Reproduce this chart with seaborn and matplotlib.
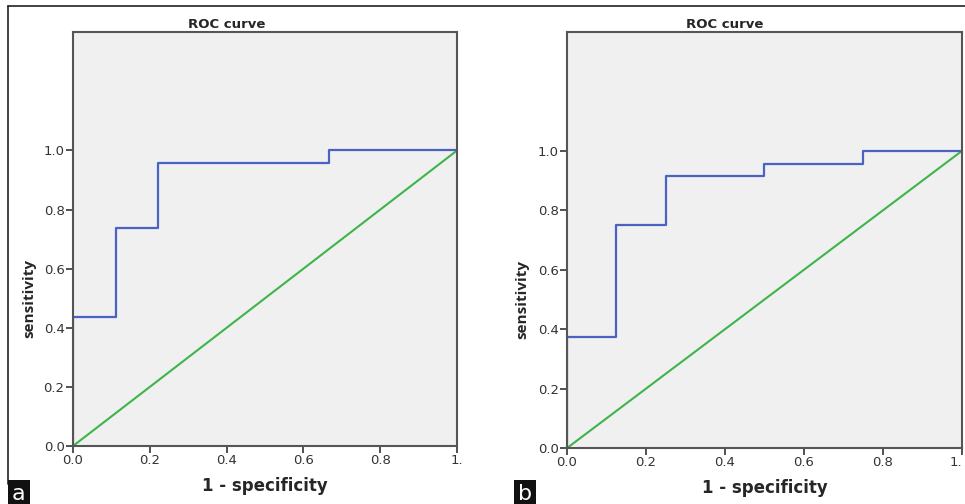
import matplotlib
matplotlib.use("Agg")
import matplotlib.pyplot as plt
import seaborn as sns
import pandas as pd

sns.set_style("white")
plt.rcParams['font.family'] = ['DejaVu Sans']

# ROC points (1 - specificity, sensitivity), panel a
fpr_a = [0.0, 0.0, 0.111, 0.222, 0.667, 1.0]
tpr_a = [0.0, 0.435, 0.739, 0.957, 1.0, 1.0]
# panel b
fpr_b = [0.0, 0.0, 0.125, 0.25, 0.5, 0.75, 1.0]
tpr_b = [0.0, 0.375, 0.75, 0.917, 0.958, 1.0, 1.0]
# reference line
ref_x = [0.0, 1.0]
ref_y = [0.0, 1.0]

ticks = [0.0, 0.2, 0.4, 0.6, 0.8, 1.0]
xtick_labels = ['0.0', '0.2', '0.4', '0.6', '0.8', '1.']
ytick_labels = ['0.0', '0.2', '0.4', '0.6', '0.8', '1.0']

blue = '#4a62c2'
green = '#3db54a'

fig = plt.figure(figsize=(9.65, 5.04), dpi=100)
axes = [fig.add_axes([0.0756, 0.115, 0.398, 0.821]),
        fig.add_axes([0.5876, 0.111, 0.409, 0.825])]

for ax, fpr, tpr in zip(axes, [fpr_a, fpr_b], [tpr_a, tpr_b]):
    df = pd.DataFrame({'fpr': fpr, 'tpr': tpr})
    ax.set_facecolor('#f0f0f0')
    sns.lineplot(x=ref_x, y=ref_y, color=green, lw=1.5, ax=ax)
    sns.lineplot(data=df, x='fpr', y='tpr', estimator=None, sort=False,
                 drawstyle='steps-post', color=blue, lw=1.6, ax=ax)
    ax.set_xlim(0, 1)
    ax.set_ylim(0, 1.4)
    ax.set_xticks(ticks)
    ax.set_xticklabels(xtick_labels)
    ax.set_yticks(ticks)
    ax.set_yticklabels(ytick_labels)
    ax.tick_params(direction='out', length=5, width=1.2, colors='#333333',
                   labelsize=9.5, left=True, bottom=True, pad=1)
    for s in ax.spines.values():
        s.set_color('#555555')
        s.set_linewidth(1.5)
    ax.set_title('ROC curve', fontsize=9.5, fontweight='bold', pad=3, x=0.40)
    ax.set_xlabel('1 - specificity', fontsize=12, fontweight='bold', labelpad=7)
    ax.set_ylabel('sensitivity', fontsize=11, fontweight='bold',
                  family=['Open Sans', 'DejaVu Sans'])
    ax.yaxis.set_label_coords(-0.095, 0.5 / 1.4)

# last x label of panel b sits at the figure edge
axes[1].get_xticklabels()[-1].set_horizontalalignment('right')

# panel letters
fig.text(0.0125, 0.0, 'a', color='white', fontsize=16, ha='left', va='bottom',
         bbox=dict(facecolor='#111111', edgecolor='none', pad=3))
fig.text(0.5365, 0.0, 'b', color='white', fontsize=16, ha='left', va='bottom',
         bbox=dict(facecolor='#111111', edgecolor='none', pad=3))

# outer frame lines
fig.add_artist(plt.Line2D([0.0085, 1.0], [0.988, 0.988], color='#222222', lw=1.2,
                          transform=fig.transFigure))
fig.add_artist(plt.Line2D([0.0085, 0.0085], [0.04, 0.988], color='#222222', lw=1.2,
                          transform=fig.transFigure))

fig.savefig('out.png', dpi=100)
